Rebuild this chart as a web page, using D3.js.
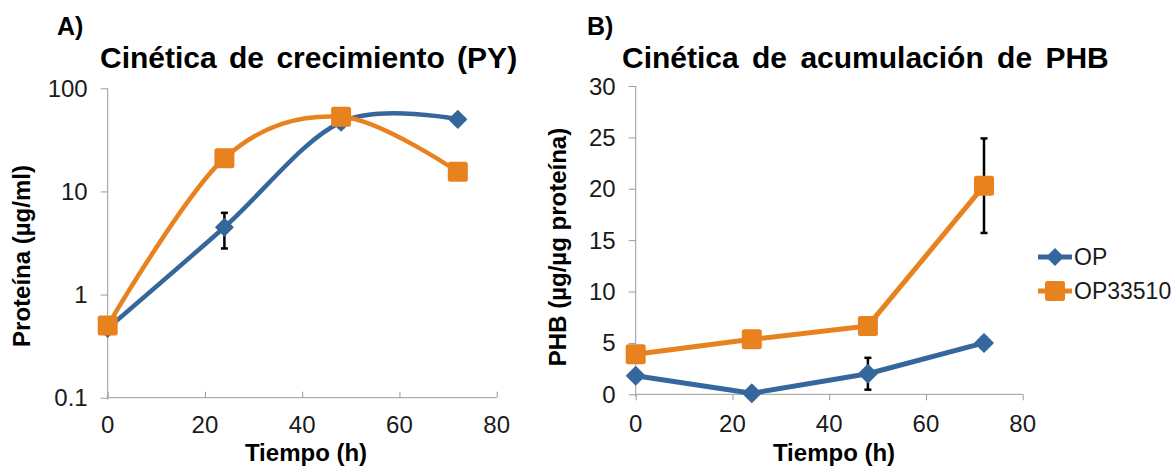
<!DOCTYPE html>
<html>
<head>
<meta charset="utf-8">
<script src="https://cdn.jsdelivr.net/npm/d3@7"></script>
<style>
  html, body { margin: 0; padding: 0; background: #fff; }
  svg text { font-family: "Liberation Sans", Arial, sans-serif; }
</style>
</head>
<body>
<svg id="chart" width="1172" height="471"></svg>
<script>
// ---- Data ----
const times = [0, 24, 48, 72];
const seriesNames = ["OP", "OP33510"];

// Panel A: growth kinetics (protein, µg/ml, log scale)
const growthOP = [0.47, 4.5, 47, 50];
const growthOPErr = [0.03, 1.7, 5, 5];
const growthOP33510 = [0.5, 21, 53, 15.5];
const growthOP33510Err = [0.03, 1, 3, 1];

// Panel B: PHB accumulation (µg/µg protein)
const phbOP = [1.8, 0.1, 2.0, 5.0];
const phbOPErr = [0.3, 0.1, 1.55, 0.5];
const phbOP33510 = [3.9, 5.35, 6.65, 20.3];
const phbOP33510Err = [0.3, 0.3, 0.3, 4.6];

const xTicks = [0, 20, 40, 60, 80];
const yTicksA = [0.1, 1, 10, 100];
const yTickLabelsA = ["0.1", "1", "10", "100"];
const yTicksB = [0, 5, 10, 15, 20, 25, 30];

const titleA = "Cinética de crecimiento (PY)";
const titleB = "Cinética de acumulación de PHB";
const xTitle = "Tiempo (h)";
const yTitleA = "Proteína (µg/ml)";
const yTitleB = "PHB (µg/µg proteína)";

// ---- Styles ----
const BLUE = "#35679c";
const ORANGE = "#e8821e";
const AXIS = "#9a9a9a";
const TXT = "#1a1a1a";

const svg = d3.select("#chart");

function drawPanel(opt) {
  const g = svg.append("g");
  const x = d3.scaleLinear().domain([0, 80]).range(opt.xRange);
  const y = opt.y;

  // axes
  const xAxis = g.append("g")
    .attr("transform", `translate(0,${opt.xAxisY})`)
    .call(d3.axisBottom(x).tickValues(xTicks).tickSize(opt.xTickDir * 6).tickFormat(""));
  xAxis.select(".domain").attr("stroke", AXIS).attr("d", `M${opt.xRange[0]},0H${opt.xRange[1]}`);
  xAxis.selectAll(".tick line").attr("stroke", AXIS);

  // x tick labels
  g.selectAll(".xl").data(xTicks).join("text")
    .attr("x", d => x(d)).attr("y", opt.xLabelY)
    .attr("text-anchor", "middle").attr("font-size", 24).attr("fill", TXT)
    .text(d => d);

  const yAxis = g.append("g")
    .attr("transform", `translate(${opt.xRange[0]},0)`)
    .call(d3.axisLeft(y).tickValues(opt.yTicks).tickSize(7).tickFormat(""));
  yAxis.select(".domain").attr("stroke", AXIS)
    .attr("d", `M0,${y.range()[1]}V${y.range()[0] + 2}`);
  yAxis.selectAll(".tick line").attr("stroke", AXIS);

  g.selectAll(".yl").data(opt.yTicks).join("text")
    .attr("x", opt.xRange[0] - 20).attr("y", d => y(d) + 8.5)
    .attr("text-anchor", "end").attr("font-size", 24).attr("fill", TXT)
    .text((d, i) => opt.yLabels[i]);

  // titles
  g.append("text").attr("x", opt.panelLabelX).attr("y", 35)
    .attr("font-size", 25).attr("font-weight", "bold").attr("fill", "#000")
    .text(opt.panelLabel);
  g.append("text").attr("x", opt.titleX).attr("y", 68)
    .attr("font-size", 30).attr("font-weight", "bold").attr("fill", "#000")
    .attr("word-spacing", opt.wordSpacing)
    .text(opt.title);
  g.append("text").attr("x", opt.xTitleX).attr("y", 461)
    .attr("text-anchor", "middle").attr("font-size", 24).attr("font-weight", "bold").attr("fill", "#000")
    .text(xTitle);
  g.append("text")
    .attr("transform", `translate(${opt.yTitleX},${opt.yTitleY}) rotate(-90)`)
    .attr("text-anchor", "middle").attr("font-size", 24).attr("font-weight", "bold").attr("fill", "#000")
    .text(opt.yTitle);

  const line = d3.line().x((d, i) => x(times[i])).y(d => y(d)).curve(opt.curve);

  const series = [
    { vals: opt.s1, err: opt.e1, color: BLUE, marker: "diamond" },
    { vals: opt.s2, err: opt.e2, color: ORANGE, marker: "square" }
  ];

  // lines
  series.forEach(s => {
    g.append("path").datum(s.vals)
      .attr("d", line).attr("fill", "none")
      .attr("stroke", s.color).attr("stroke-width", opt.lineWidth)
      .attr("stroke-linejoin", "round").attr("stroke-linecap", "round");
  });

  // error bars
  series.forEach(s => {
    const eg = g.append("g");
    s.vals.forEach((v, i) => {
      const lo = Math.max(v - s.err[i], opt.yMin);
      const hi = v + s.err[i];
      const cx = x(times[i]);
      eg.append("line").attr("x1", cx).attr("x2", cx).attr("y1", y(lo)).attr("y2", y(hi))
        .attr("stroke", "#000").attr("stroke-width", 2.5);
      [lo, hi].forEach(e => {
        eg.append("line").attr("x1", cx - 3.5).attr("x2", cx + 3.5).attr("y1", y(e)).attr("y2", y(e))
          .attr("stroke", "#000").attr("stroke-width", 2.5);
      });
    });
  });

  // markers
  series.forEach(s => {
    s.vals.forEach((v, i) => {
      const cx = x(times[i]), cy = y(v);
      if (s.marker === "diamond") {
        const r = opt.diamond / 2;
        g.append("path")
          .attr("d", `M${cx},${cy - r}L${cx + r},${cy}L${cx},${cy + r}L${cx - r},${cy}Z`)
          .attr("fill", s.color).attr("stroke", s.color).attr("stroke-width", 1.5).attr("stroke-linejoin", "round");
      } else {
        const h = opt.square / 2;
        g.append("rect").attr("x", cx - h).attr("y", cy - h).attr("width", 2 * h).attr("height", 2 * h)
          .attr("rx", 2.5).attr("fill", s.color);
      }
    });
  });
  return g;
}

// Panel A
drawPanel({
  xRange: [107.7, 496.7],
  y: d3.scaleLog().domain([0.1, 100]).range([397.7, 88.3]),
  yMin: 0.1,
  yTicks: yTicksA, yLabels: yTickLabelsA,
  xAxisY: 397.7, xTickDir: -1, xLabelY: 433,
  panelLabel: "A)", panelLabelX: 57,
  title: titleA, titleX: 100, wordSpacing: 4,
  xTitleX: 306,
  yTitle: yTitleA, yTitleX: 30, yTitleY: 256,
  s1: growthOP, e1: growthOPErr, s2: growthOP33510, e2: growthOP33510Err,
  curve: d3.curveCatmullRom.alpha(0),
  lineWidth: 4.5, diamond: 17, square: 20
});

// Panel B
drawPanel({
  xRange: [635.7, 1022.7],
  y: d3.scaleLinear().domain([0, 30]).range([394.3, 86]),
  yMin: -1,
  yTicks: yTicksB, yLabels: yTicksB.map(String),
  xAxisY: 394.3, xTickDir: 1, xLabelY: 432,
  panelLabel: "B)", panelLabelX: 587,
  title: titleB, titleX: 622, wordSpacing: 5,
  xTitleX: 834,
  yTitle: yTitleB, yTitleX: 566, yTitleY: 247,
  s1: phbOP, e1: phbOPErr, s2: phbOP33510, e2: phbOP33510Err,
  curve: d3.curveLinear,
  lineWidth: 5, diamond: 18, square: 20
});

// Legend
const legendY = [257, 291];
const legendColors = [BLUE, ORANGE];
const lg = svg.append("g");
seriesNames.forEach((name, i) => {
  const yy = legendY[i];
  lg.append("line").attr("x1", 1038).attr("x2", 1072).attr("y1", yy).attr("y2", yy)
    .attr("stroke", legendColors[i]).attr("stroke-width", 5);
  if (i === 0) {
    const r = 9, cx = 1055;
    lg.append("path").attr("d", `M${cx},${yy - r}L${cx + r},${yy}L${cx},${yy + r}L${cx - r},${yy}Z`)
      .attr("fill", BLUE);
  } else {
    lg.append("rect").attr("x", 1045).attr("y", yy - 10).attr("width", 20).attr("height", 20)
      .attr("rx", 2.5).attr("fill", ORANGE);
  }
  lg.append("text").attr("x", 1074).attr("y", yy + 8)
    .attr("font-size", 23).attr("fill", TXT).text(name);
});
</script>
</body>
</html>
